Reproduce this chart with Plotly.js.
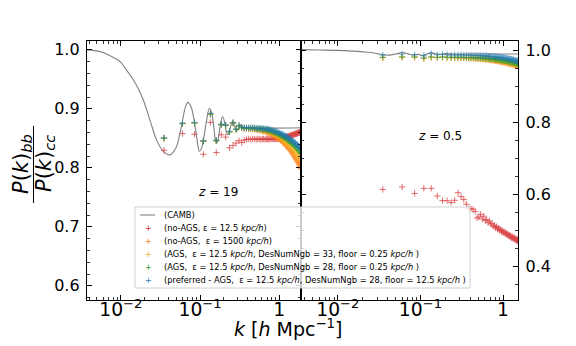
<!DOCTYPE html>
<html>
<head>
<meta charset="utf-8">
<script src="https://cdn.plot.ly/plotly-3.0.1.min.js"></script>
<style>
  html, body { margin: 0; padding: 0; background: #fff; }
  #graphics { width: 576px; height: 346px; }
</style>
</head>
<body>
<div id="graphics"></div>
<script>
// k bins of the simulation spectra (h/Mpc)
var kSim = [0.035,0.06,0.085,0.11,0.135,0.16,0.185,0.21,0.235,0.26,
  0.285,0.31,0.335,0.36,0.385,0.41,0.435,0.46,0.485,0.51,
  0.535,0.56,0.585,0.61,0.635,0.66,0.685,0.71,0.735,0.76,
  0.785,0.81,0.835,0.86,0.885,0.91,0.935,0.96,0.985,1.01,
  1.035,1.06,1.085,1.11,1.135,1.16,1.185,1.21,1.235,1.26,
  1.285,1.31,1.335,1.36,1.385,1.41,1.435,1.46,1.485,1.51,
  1.535,1.56,1.585,1.61,1.635,1.66,1.685,1.71,1.735,1.76,
  1.785,1.81,1.835,1.86,1.885,1.91];

// CAMB linear ratio
var camb19K = [0.00365,0.0055,0.0073,0.0098,0.0116,0.0144,0.0165,0.0192,0.0233,0.0283,0.0343,0.0416,0.05,0.055,0.06,0.065,0.07,0.077,0.085,0.091,0.098,0.104,0.111,0.12,0.131,0.14,0.15,0.157,0.163,0.17,0.18,0.192,0.205,0.215,0.222,0.23,0.245,0.259,0.275,0.29,0.305,0.326,0.345,0.365,0.39,0.42,2.0];
var camb19V = [1.0,0.997,0.99,0.98,0.967,0.949,0.935,0.915,0.881,0.847,0.828,0.822,0.835,0.855,0.88,0.902,0.911,0.903,0.877,0.85,0.828,0.833,0.85,0.878,0.901,0.893,0.865,0.846,0.842,0.85,0.872,0.887,0.876,0.86,0.856,0.858,0.872,0.878,0.869,0.862,0.867,0.873,0.869,0.866,0.869,0.868,0.868];
var camb05K = [0.00365,0.006,0.01,0.015,0.02,0.025,0.03,0.036,0.042,0.05,0.061,0.07,0.081,0.094,0.107,0.12,0.135,0.15,0.17,0.2,0.25,0.3,2.0];
var camb05V = [1.001,1.0,0.999,0.997,0.995,0.993,0.99,0.987,0.986,0.989,0.993,0.99,0.986,0.988,0.985,0.989,0.993,0.99,0.988,0.99,0.989,0.989,0.989];

// z = 19
var red19 = [0.830,0.858,0.857,0.823,0.877,0.826,0.856,0.852,0.834,0.838,0.842,0.846,0.843,0.847,0.848,
  0.849,0.848,0.849,0.849,0.848,0.849,0.849,0.848,0.849,0.849,0.848,0.849,0.849,0.848,0.849,
  0.849,0.849,0.849,0.849,0.849,0.849,0.849,0.850,0.850,0.850,0.850,0.850,0.851,0.851,0.851,
  0.852,0.852,0.852,0.853,0.853,0.853,0.854,0.854,0.854,0.855,0.855,0.855,0.856,0.856,0.856,
  0.857,0.857,0.857,0.858,0.858,0.858,0.859,0.859,0.859,0.860,0.860,0.860,0.861,0.861,0.861,0.862];
var orange19 = [0.850,0.875,0.876,0.846,0.891,0.846,0.873,0.872,0.861,0.876,0.865,0.871,0.868,0.867,0.867,
  0.866,0.866,0.866,0.865,0.865,0.864,0.864,0.863,0.862,0.862,0.861,0.860,0.860,0.859,0.858,
  0.857,0.856,0.855,0.854,0.853,0.852,0.851,0.850,0.849,0.848,0.847,0.846,0.845,0.843,0.842,
  0.841,0.840,0.838,0.837,0.836,0.834,0.833,0.832,0.830,0.829,0.828,0.826,0.825,0.823,0.822,
  0.820,0.819,0.817,0.816,0.814,0.813,0.811,0.810,0.808,0.807,0.805,0.804,0.802,0.801,0.799,0.798];
var yellow19 = [0.850,0.875,0.876,0.845,0.891,0.846,0.873,0.872,0.861,0.876,0.865,0.871,0.868,0.867,0.867,
  0.867,0.866,0.866,0.866,0.866,0.865,0.865,0.864,0.864,0.863,0.863,0.862,0.862,0.861,0.860,
  0.860,0.859,0.858,0.857,0.857,0.856,0.855,0.854,0.853,0.852,0.851,0.850,0.849,0.848,0.847,
  0.846,0.845,0.844,0.843,0.842,0.841,0.840,0.839,0.838,0.837,0.836,0.834,0.833,0.832,0.831,
  0.830,0.829,0.828,0.826,0.825,0.824,0.823,0.822,0.820,0.819,0.818,0.817,0.816,0.814,0.813,0.812];
var green19 = [0.850,0.875,0.876,0.845,0.891,0.846,0.873,0.872,0.861,0.876,0.865,0.871,0.868,0.867,0.867,
  0.867,0.867,0.867,0.867,0.866,0.866,0.866,0.866,0.865,0.865,0.865,0.864,0.864,0.863,0.863,
  0.862,0.862,0.861,0.860,0.860,0.859,0.858,0.858,0.857,0.856,0.855,0.855,0.854,0.853,0.852,
  0.851,0.851,0.850,0.849,0.848,0.847,0.846,0.845,0.845,0.844,0.843,0.842,0.841,0.840,0.839,
  0.838,0.837,0.837,0.836,0.835,0.834,0.833,0.832,0.831,0.830,0.829,0.828,0.827,0.826,0.825,0.824];
var blue19 = [0.851,0.876,0.877,0.846,0.892,0.847,0.874,0.873,0.862,0.877,0.866,0.872,0.869,0.868,0.868,
  0.868,0.868,0.868,0.868,0.867,0.867,0.867,0.867,0.867,0.866,0.866,0.866,0.866,0.865,0.865,
  0.864,0.864,0.863,0.862,0.862,0.861,0.861,0.860,0.859,0.859,0.858,0.857,0.857,0.856,0.855,
  0.855,0.854,0.853,0.853,0.852,0.851,0.850,0.850,0.849,0.848,0.847,0.847,0.846,0.845,0.844,
  0.843,0.843,0.842,0.841,0.840,0.839,0.839,0.838,0.837,0.836,0.835,0.835,0.834,0.833,0.832,0.831];

// z = 0.5
var red05 = [0.614,0.621,0.603,0.617,0.617,0.596,0.583,0.583,0.578,0.584,0.605,0.594,0.586,0.573,0.561,
  0.561,0.559,0.553,0.535,0.538,0.545,0.532,0.540,0.528,0.530,0.522,0.527,0.518,0.520,0.512,
  0.515,0.508,0.511,0.504,0.507,0.501,0.503,0.497,0.500,0.494,0.497,0.491,0.494,0.489,0.491,
  0.486,0.488,0.483,0.486,0.480,0.484,0.479,0.481,0.476,0.480,0.475,0.477,0.472,0.476,0.471,
  0.473,0.469,0.472,0.467,0.470,0.466,0.468,0.464,0.467,0.463,0.465,0.462,0.464,0.460,0.463,0.459];
var orange05 = [0.979,0.980,0.980,0.977,0.980,0.979,0.980,0.979,0.979,0.979,0.978,0.978,0.978,0.978,0.977,
  0.977,0.977,0.976,0.976,0.976,0.975,0.975,0.974,0.974,0.974,0.973,0.973,0.972,0.972,0.971,
  0.971,0.970,0.970,0.969,0.969,0.968,0.968,0.967,0.967,0.966,0.966,0.965,0.965,0.964,0.964,
  0.963,0.963,0.962,0.962,0.961,0.961,0.960,0.960,0.959,0.959,0.958,0.958,0.957,0.957,0.956,
  0.956,0.955,0.955,0.954,0.954,0.953,0.953,0.952,0.952,0.951,0.951,0.950,0.950,0.949,0.949,0.948];
var yellow05 = [0.979,0.980,0.980,0.977,0.980,0.979,0.980,0.979,0.979,0.979,0.979,0.979,0.979,0.978,0.978,
  0.978,0.978,0.977,0.977,0.977,0.976,0.976,0.976,0.975,0.975,0.975,0.974,0.974,0.973,0.973,
  0.973,0.972,0.972,0.971,0.971,0.970,0.970,0.969,0.969,0.968,0.968,0.967,0.967,0.966,0.966,
  0.965,0.965,0.964,0.964,0.963,0.963,0.962,0.962,0.961,0.961,0.960,0.960,0.959,0.959,0.958,
  0.958,0.957,0.957,0.956,0.956,0.955,0.955,0.954,0.954,0.953,0.953,0.952,0.952,0.951,0.951,0.950];
var green05 = [0.980,0.981,0.981,0.978,0.981,0.980,0.981,0.980,0.980,0.980,0.980,0.980,0.980,0.979,0.979,
  0.979,0.979,0.979,0.978,0.978,0.978,0.978,0.977,0.977,0.977,0.976,0.976,0.976,0.975,0.975,
  0.975,0.974,0.974,0.973,0.973,0.973,0.972,0.972,0.971,0.971,0.971,0.970,0.970,0.969,0.969,
  0.969,0.968,0.968,0.967,0.967,0.966,0.966,0.965,0.965,0.964,0.964,0.963,0.963,0.962,0.962,
  0.961,0.961,0.960,0.960,0.959,0.959,0.958,0.958,0.957,0.957,0.956,0.956,0.955,0.955,0.954,0.954];
var blue05 = [0.986,0.989,0.987,0.984,0.990,0.987,0.988,0.987,0.986,0.987,0.986,0.987,0.986,0.986,0.986,
  0.986,0.985,0.985,0.985,0.985,0.985,0.984,0.984,0.984,0.984,0.983,0.983,0.983,0.982,0.982,
  0.982,0.981,0.981,0.981,0.980,0.980,0.980,0.979,0.979,0.978,0.978,0.978,0.977,0.977,0.976,
  0.976,0.975,0.975,0.975,0.974,0.974,0.973,0.973,0.972,0.972,0.971,0.971,0.970,0.970,0.969,
  0.969,0.968,0.968,0.967,0.967,0.966,0.966,0.965,0.965,0.964,0.964,0.963,0.963,0.962,0.962,0.961];

var labels = [
  '(CAMB)',
  '(no-AGS, ε = 12.5 <i>kpc/h</i>)',
  '(no-AGS,  ε = 1500 <i>kpc/h</i>)',
  '(AGS,  ε = 12.5 <i>kpc/h</i>, DesNumNgb = 33, floor = 0.25 <i>kpc/h</i> )',
  '(AGS,  ε = 12.5 <i>kpc/h</i>, DesNumNgb = 28, floor = 0.25 <i>kpc/h</i> )',
  '(preferred - AGS,  ε = 12.5 <i>kpc/h</i>, DesNumNgb = 28, floor = 12.5 <i>kpc/h</i> )'
];
var colors = ['#808080', '#d62728', '#ff7f0e', '#f2b01e', '#2ca02c', '#1f77b4'];

var font = 'DejaVu Sans, sans-serif';
var sim19 = [red19, orange19, yellow19, green19, blue19];
var sim05 = [red05, orange05, yellow05, green05, blue05];

var traces = [];
traces.push({x: camb19K, y: camb19V, xaxis: 'x', yaxis: 'y', mode: 'lines',
  line: {color: colors[0], width: 1.1, shape: 'spline', smoothing: 1}, showlegend: false});
traces.push({x: camb05K, y: camb05V, xaxis: 'x2', yaxis: 'y2', mode: 'lines',
  line: {color: colors[0], width: 1.1, shape: 'spline', smoothing: 1}, showlegend: false});
for (var i = 0; i < 5; i++) {
  var mk = {symbol: 'cross-thin', size: 4.5, color: colors[i + 1], line: {color: colors[i + 1], width: 0.8}};
  traces.push({x: kSim, y: sim19[i], xaxis: 'x', yaxis: 'y', mode: 'markers', marker: mk, opacity: 0.85, showlegend: false});
  traces.push({x: kSim, y: sim05[i], xaxis: 'x2', yaxis: 'y2', mode: 'markers', marker: mk, opacity: 0.85, showlegend: false});
}

// pixel helpers for paper-referenced decorations
var L = 87, R = 518, T = 41, B = 300;
function px(x) { return (x - L) / (R - L); }
function py(y) { return (B - y) / (B - T); }

var xcommon = {
  type: 'log', dtick: 1, exponentformat: 'power', showgrid: false, zeroline: false,
  ticks: 'inside', ticklen: 5, tickwidth: 1, tickcolor: '#000',
  showline: true, linecolor: '#000', linewidth: 1.2, mirror: 'ticks',
  tickfont: {family: font, size: 15, color: '#000'}, ticklabelstandoff: -7,
  minor: {ticks: 'inside', ticklen: 3, tickwidth: 0.8, tickcolor: '#000', dtick: 'D1', showgrid: false}
};
var ycommon = {
  showgrid: false, zeroline: false, tickformat: '.1f',
  ticks: 'inside', ticklen: 5, tickwidth: 1, tickcolor: '#000',
  showline: true, linecolor: '#000', linewidth: 1.2, mirror: 'ticks',
  tickfont: {family: font, size: 16, color: '#000'}, ticklabelstandoff: 3
};

var layout = {
  width: 576, height: 346,
  margin: {l: L, r: 576 - R, t: T, b: 346 - B, pad: 0},
  paper_bgcolor: '#fff', plot_bgcolor: '#fff',
  showlegend: false,
  xaxis: Object.assign({}, xcommon, {domain: [0, 0.497], range: [-2.427, 0.276], anchor: 'y'}),
  xaxis2: Object.assign({}, xcommon, {domain: [0.497, 1], range: [-2.443, 0.181], anchor: 'y2'}),
  yaxis: Object.assign({}, ycommon, {range: [0.576, 1.015], dtick: 0.1, anchor: 'x',
    minor: {ticks: 'inside', ticklen: 3, tickwidth: 0.8, tickcolor: '#000', dtick: 0.02, showgrid: false}}),
  yaxis2: Object.assign({}, ycommon, {range: [0.308, 1.025], dtick: 0.2, anchor: 'x2', side: 'right',
    minor: {ticks: 'inside', ticklen: 3, tickwidth: 0.8, tickcolor: '#000', dtick: 0.05, showgrid: false}}),
  shapes: [],
  annotations: []
};

function note(x, y, text, size, extra) {
  var a = {xref: 'paper', yref: 'paper', x: px(x), y: py(y), xanchor: 'center', yanchor: 'middle',
    text: text, showarrow: false, font: {family: font, size: size, color: '#000'}};
  return Object.assign(a, extra || {});
}

// redshift labels
layout.annotations.push(note(218, 192, '<i>z</i> = 19', 12));
layout.annotations.push(note(440, 136, '<i>z</i> = 0.5', 12));

// axis titles
layout.annotations.push(note(288, 328, '<i>k</i> [<i>h</i> Mpc<sup>−1</sup>]', 19));
layout.annotations.push(note(22, 164, '<i>P</i>(<i>k</i>)<sub><i>bb</i></sub>', 21, {textangle: -90}));
layout.annotations.push(note(45, 164, '<i>P</i>(<i>k</i>)<sub><i>cc</i></sub>', 21, {textangle: -90}));
layout.shapes.push({type: 'line', xref: 'paper', yref: 'paper', x0: px(33.5), x1: px(33.5), y0: py(126), y1: py(203),
  line: {color: '#000', width: 1}});

// legend box
layout.shapes.push({type: 'rect', xref: 'paper', yref: 'paper', x0: px(135), x1: px(470), y0: py(207), y1: py(288),
  fillcolor: 'rgba(255,255,255,0.8)', line: {color: '#d0d0d0', width: 1}, layer: 'above'});
var rowY = [215, 228, 241, 254, 267, 280];
for (var j = 0; j < labels.length; j++) {
  if (j === 0) {
    layout.shapes.push({type: 'line', xref: 'paper', yref: 'paper', x0: px(140), x1: px(155), y0: py(rowY[j]), y1: py(rowY[j]),
      line: {color: colors[0], width: 1.1}, layer: 'above'});
  } else {
    layout.annotations.push(note(148, rowY[j], '+', 8, {font: {family: font, size: 8, color: colors[j]}}));
  }
  layout.annotations.push(note(162, rowY[j], labels[j], 8.3, {xanchor: 'left'}));
}

Plotly.newPlot('graphics', traces, layout, {staticPlot: true, displayModeBar: false});
</script>
</body>
</html>
